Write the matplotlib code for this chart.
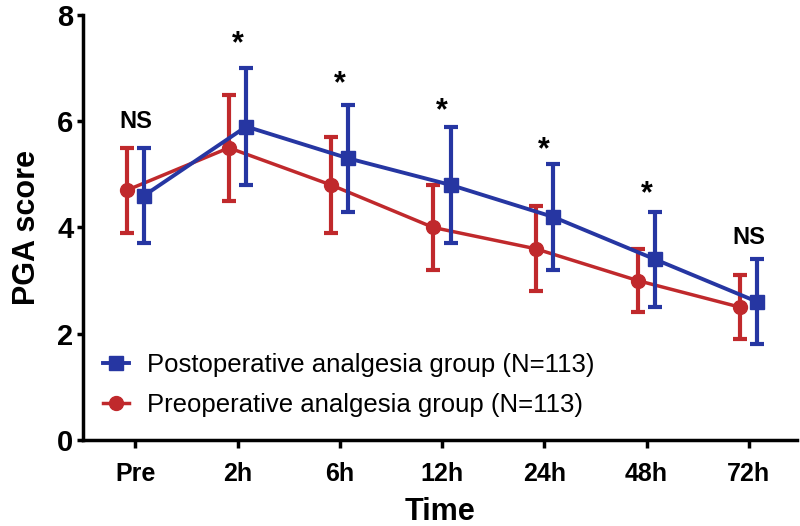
import matplotlib
matplotlib.use("Agg")
import numpy as np
import matplotlib.pyplot as plt
from matplotlib.lines import Line2D

plt.rcParams["font.family"] = ["Liberation Sans", "DejaVu Sans"]

times = ["Pre", "2h", "6h", "12h", "24h", "48h", "72h"]

post_mean = [4.6, 5.9, 5.3, 4.8, 4.2, 3.4, 2.6]
post_low = [3.7, 4.8, 4.3, 3.7, 3.2, 2.5, 1.8]
post_high = [5.5, 7.0, 6.3, 5.9, 5.2, 4.3, 3.4]

pre_mean = [4.7, 5.5, 4.8, 4.0, 3.6, 3.0, 2.5]
pre_low = [3.9, 4.5, 3.9, 3.2, 2.8, 2.4, 1.9]
pre_high = [5.5, 6.5, 5.7, 4.8, 4.4, 3.6, 3.1]

sig_labels = ["NS", "*", "*", "*", "*", "*", "NS"]
sig_y = [5.78, 7.16, 6.42, 5.91, 5.18, 4.35, 3.6]

labels = ["Postoperative analgesia group (N=113)",
          "Preoperative analgesia group (N=113)"]

blue = "#2636a2"
red = "#c0292c"

fig = plt.figure(figsize=(8, 5.26), dpi=100)
ax = fig.add_axes([0.104, 0.1635, 0.892, 0.808])

x = np.arange(len(times))
off = 0.085

post_m = np.array(post_mean)
pre_m = np.array(pre_mean)

ax.errorbar(x + off, post_m,
            yerr=[post_m - np.array(post_low), np.array(post_high) - post_m],
            color=blue, marker="s", markersize=10, linewidth=2.8,
            elinewidth=3, capsize=5, capthick=3, zorder=3)
ax.errorbar(x - off, pre_m,
            yerr=[pre_m - np.array(pre_low), np.array(pre_high) - pre_m],
            color=red, marker="o", markersize=10, linewidth=2.5,
            elinewidth=3, capsize=5, capthick=3, zorder=2)

for i, (lab, yy) in enumerate(zip(sig_labels, sig_y)):
    fs = 17 if lab == "NS" else 22
    ax.text(x[i], yy, lab, ha="center", va="bottom", fontsize=fs,
            fontweight="bold")

ax.set_xlim(-0.51, 6.47)
ax.set_ylim(0, 8)
ax.set_xticks(x)
ax.set_xticklabels(times, fontsize=18, fontweight="bold")
ax.set_yticks([0, 2, 4, 6, 8])
ax.set_yticklabels(["0", "2", "4", "6", "8"], fontsize=21, fontweight="bold")
ax.set_xlabel("Time", fontsize=22, fontweight="bold", labelpad=8)
ax.set_ylabel("PGA score", fontsize=22, fontweight="bold", labelpad=11)

for s in ["top", "right"]:
    ax.spines[s].set_visible(False)
for s in ["left", "bottom"]:
    ax.spines[s].set_linewidth(2.5)
ax.tick_params(axis="x", width=2.5, length=6, direction="out", pad=10)
ax.tick_params(axis="y", width=2.5, length=4, direction="out", pad=3)

handles = [Line2D([], [], color=blue, marker="s", markersize=10, linewidth=2.8),
           Line2D([], [], color=red, marker="o", markersize=10, linewidth=2.5)]
ax.legend(handles, labels, loc="center left", bbox_to_anchor=(0.028, 0.13),
          frameon=False, fontsize=18.5, handlelength=1.0, handletextpad=0.7,
          labelspacing=0.62, borderpad=0, borderaxespad=0)

fig.savefig("out.png", dpi=100)
